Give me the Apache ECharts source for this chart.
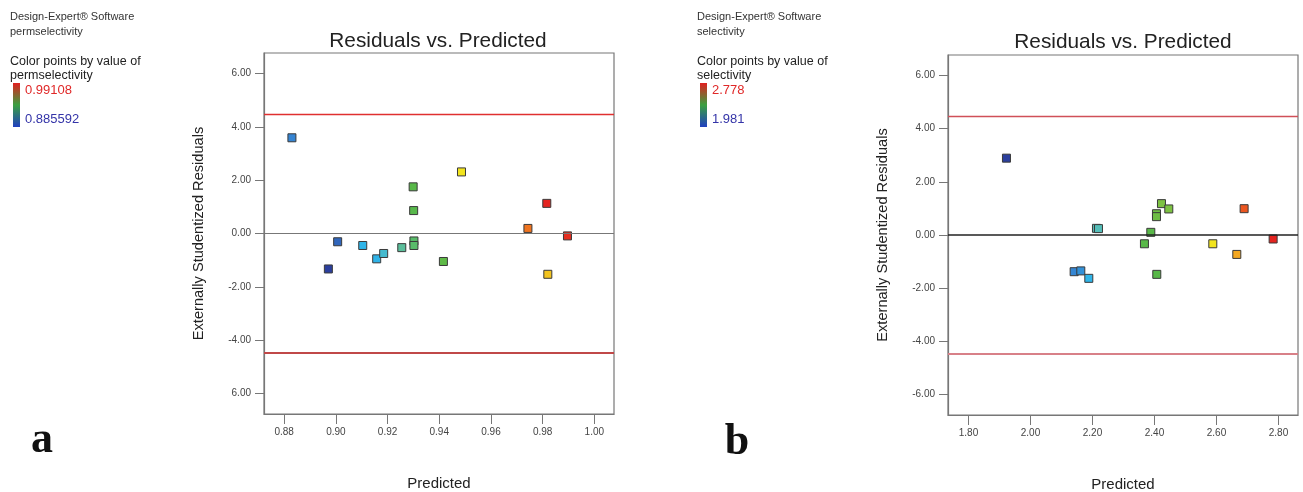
<!DOCTYPE html>
<html>
<head>
<meta charset="utf-8">
<title>Residuals vs. Predicted</title>
<script src="https://cdn.jsdelivr.net/npm/echarts@6/dist/echarts.min.js"></script>
<style>
    html, body { margin: 0; padding: 0; background: #fff; }
    #container { width: 1303px; height: 492px; }
</style>
</head>
<body>
<div id="container"></div>
<script>
// (a) permselectivity
let predictedA = [0.8830, 0.9007, 0.8971, 0.9104, 0.9158, 0.9185, 0.9255, 0.9299, 0.9301, 0.9302, 0.9302, 0.9416, 0.9486, 0.9743, 0.9816, 0.9820, 0.9896];
let residualA = [3.59, -0.31, -1.33, -0.45, -0.95, -0.75, -0.53, 1.75, 0.86, -0.28, -0.45, -1.05, 2.31, 0.19, 1.13, -1.53, -0.09];
let actualA = [0.8988, 0.8930, 0.8856, 0.9120, 0.9115, 0.9183, 0.9278, 0.9383, 0.9380, 0.9341, 0.9340, 0.9404, 0.9647, 0.9826, 0.9911, 0.9710, 0.9900];
let xTicksA = [0.88, 0.90, 0.92, 0.94, 0.96, 0.98, 1.00];
let yTicksA = [-6, -4, -2, 0, 2, 4, 6];
let yTickLabelsA = ['6.00', '-4.00', '-2.00', '0.00', '2.00', '4.00', '6.00'];
let limitA = 4.48;
let rangeA = [0.885592, 0.99108];

// (b) selectivity
let predictedB = [1.9226, 2.1409, 2.1624, 2.1882, 2.2129, 2.2194, 2.3677, 2.3882, 2.4065, 2.4065, 2.4226, 2.4462, 2.4075, 2.5882, 2.6656, 2.6892, 2.7828];
let residualB = [2.89, -1.38, -1.35, -1.63, 0.25, 0.24, -0.33, 0.10, 0.80, 0.69, 1.18, 0.98, -1.48, -0.33, -0.73, 0.99, -0.15];
let actualB = [1.981, 2.085, 2.108, 2.180, 2.268, 2.265, 2.380, 2.382, 2.427, 2.425, 2.459, 2.460, 2.380, 2.579, 2.666, 2.738, 2.778];
let xTicksB = [1.8, 2.0, 2.2, 2.4, 2.6, 2.8];
let yTicksB = [-6, -4, -2, 0, 2, 4, 6];
let yTickLabelsB = ['-6.00', '-4.00', '-2.00', '0.00', '2.00', '4.00', '6.00'];
let limitB = 4.48;
let rangeB = [1.981, 2.778];

let font = '"Liberation Sans", Arial, sans-serif';
let pointColors = ['#2b3f9d', '#3584d2', '#2fb5e9', '#5cc0b0', '#58b848', '#86c440', '#f2e41e', '#f5a020', '#e42420'];

function toPoints(xs, ys, cs) {
    let pts = [];
    for (let i = 0; i < xs.length; i++) {
        pts.push([xs[i], ys[i], cs[i]]);
    }
    return pts;
}

function xAxisFor(idx, min, max, ticks) {
    return {
        gridIndex: idx,
        type: 'value',
        min: min,
        max: max,
        name: 'Predicted',
        nameLocation: 'middle',
        nameGap: 62,
        nameTextStyle: { fontFamily: font, fontSize: 15, color: '#222' },
        axisLine: { show: true, onZero: false, lineStyle: { color: '#777', width: 1.2 } },
        axisTick: { show: true, length: 10, customValues: ticks, lineStyle: { color: '#777' } },
        axisLabel: {
            customValues: ticks,
            margin: 13,
            fontFamily: font, fontSize: 10, color: '#444',
            formatter: function (v) { return v.toFixed(2); }
        },
        splitLine: { show: false }
    };
}

function yAxisFor(idx, ticks, labels) {
    return {
        gridIndex: idx,
        type: 'value',
        min: -6.77,
        max: 6.77,
        name: 'Externally Studentized Residuals',
        nameLocation: 'middle',
        nameRotate: 90,
        nameGap: 58,
        nameTextStyle: { fontFamily: font, fontSize: 14.6, color: '#222' },
        axisLine: { show: true, onZero: false, lineStyle: { color: '#777', width: 1.2 } },
        axisTick: { show: true, length: 9, customValues: ticks, lineStyle: { color: '#777' } },
        axisLabel: {
            customValues: ticks,
            margin: 13,
            fontFamily: font, fontSize: 10, color: '#444',
            formatter: function (v) { return labels[ticks.indexOf(Math.round(v))]; }
        },
        splitLine: { show: false }
    };
}

function scatterFor(idx, pts, limit, zeroColor, zeroWidth, topColor, bottomColor) {
    return {
        type: 'scatter',
        xAxisIndex: idx,
        yAxisIndex: idx,
        symbol: 'rect',
        symbolSize: 8,
        itemStyle: { borderColor: '#3a3a3a', borderWidth: 1, opacity: 1 },
        data: pts,
        markLine: {
            silent: true,
            symbol: 'none',
            label: { show: false },
            data: [
                { yAxis: 0, lineStyle: { color: zeroColor, width: zeroWidth, type: 'solid' } },
                { yAxis: limit, lineStyle: { color: topColor, width: 1.3, type: 'solid' } },
                { yAxis: -limit, lineStyle: { color: bottomColor, width: 2, type: 'solid' } }
            ]
        }
    };
}

function legendFor(x, name, range) {
    let small = { fontFamily: font, fontSize: 11, fill: '#333' };
    let big = { fontFamily: font, fontSize: 12.5, fill: '#222' };
    return [
        { type: 'text', left: x, top: 11, style: Object.assign({ text: 'Design-Expert® Software' }, small) },
        { type: 'text', left: x, top: 26, style: Object.assign({ text: name }, small) },
        { type: 'text', left: x, top: 55, style: Object.assign({ text: 'Color points by value of' }, big) },
        { type: 'text', left: x, top: 69, style: Object.assign({ text: name }, big) },
        {
            type: 'rect', left: x + 3, top: 83,
            shape: { width: 7, height: 44 },
            style: {
                fill: new echarts.graphic.LinearGradient(0, 0, 0, 1, [
                    { offset: 0, color: '#e02020' },
                    { offset: 0.5, color: '#3aa040' },
                    { offset: 1, color: '#2040c0' }
                ])
            }
        },
        { type: 'text', left: x + 15, top: 84, style: { text: String(range[1]), fontFamily: font, fontSize: 13, fill: '#e02828' } },
        { type: 'text', left: x + 15, top: 113, style: { text: String(range[0]), fontFamily: font, fontSize: 13, fill: '#3434a8' } }
    ];
}

let dom = document.getElementById('container');
let myChart = echarts.init(dom, null, { renderer: 'canvas' });

let option = {
    backgroundColor: '#fff',
    animation: false,
    grid: [
        { left: 264, top: 53, width: 350, height: 361, show: true, borderColor: '#777', borderWidth: 1.2, outerBoundsMode: 'none', containLabel: false },
        { left: 948, top: 55, width: 350, height: 360, show: true, borderColor: '#777', borderWidth: 1.2, outerBoundsMode: 'none', containLabel: false }
    ],
    xAxis: [
        xAxisFor(0, 0.8722, 1.0076, xTicksA),
        xAxisFor(1, 1.734, 2.863, xTicksB)
    ],
    yAxis: [
        yAxisFor(0, yTicksA, yTickLabelsA),
        yAxisFor(1, yTicksB, yTickLabelsB)
    ],
    visualMap: [
        { show: false, seriesIndex: 0, dimension: 2, min: rangeA[0], max: rangeA[1], inRange: { color: pointColors } },
        { show: false, seriesIndex: 1, dimension: 2, min: rangeB[0], max: rangeB[1], inRange: { color: pointColors } }
    ],
    series: [
        scatterFor(0, toPoints(predictedA, residualA, actualA), limitA, '#777', 1, '#e03030', '#c04848'),
        scatterFor(1, toPoints(predictedB, residualB, actualB), limitB, '#222', 1.6, '#d05058', '#d88088')
    ],
    graphic: [].concat(
        legendFor(10, 'permselectivity', rangeA),
        legendFor(697, 'selectivity', rangeB),
        [
            { type: 'text', x: 438, y: 41, style: { text: 'Residuals vs. Predicted', fontFamily: font, fontSize: 20.8, fill: '#222', align: 'center', verticalAlign: 'middle' } },
            { type: 'text', x: 1123, y: 42, style: { text: 'Residuals vs. Predicted', fontFamily: font, fontSize: 20.8, fill: '#222', align: 'center', verticalAlign: 'middle' } },
            { type: 'text', x: 42, y: 441, style: { text: 'a', fontFamily: '"Liberation Serif", "Times New Roman", serif', fontWeight: 'bold', fontSize: 44, fill: '#111', align: 'center', verticalAlign: 'middle' } },
            { type: 'text', x: 737, y: 443, style: { text: 'b', fontFamily: '"Liberation Serif", "Times New Roman", serif', fontWeight: 'bold', fontSize: 44, fill: '#111', align: 'center', verticalAlign: 'middle' } }
        ]
    )
};

myChart.setOption(option, true);
</script>
</body>
</html>
